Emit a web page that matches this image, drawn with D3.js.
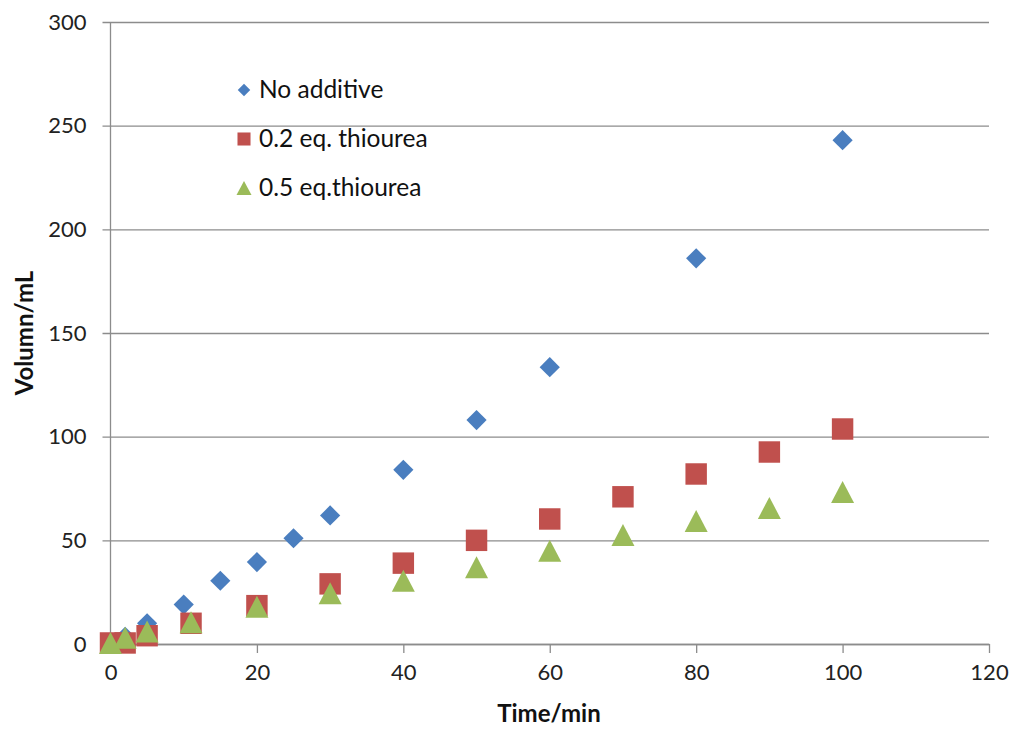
<!DOCTYPE html>
<html>
<head>
<meta charset="utf-8">
<script src="https://cdn.jsdelivr.net/npm/d3@7"></script>
<style>
  body { margin: 0; background: white; }
</style>
</head>
<body>
<div id="container"></div>
<script>
let w = 1016;
let h = 730;

// series data
let seriesNames = ["No additive", "0.2 eq. thiourea", "0.5 eq.thiourea"];
let seriesColors = ["#4a7ebf", "#c0504d", "#9bbb59"];

let noAddTime = [0, 2, 5, 10, 15, 20, 25, 30, 40, 50, 60, 80, 100];
let noAddVol  = [0, 3.5, 10, 19, 30.5, 39.5, 51, 62, 84, 108, 133.5, 186, 243];

let thio02Time = [0, 2, 5, 11, 20, 30, 40, 50, 60, 70, 80, 90, 100];
let thio02Vol  = [0.5, 0.5, 4, 10, 18.5, 29, 39, 50, 60.3, 71, 82, 92.6, 103.7];

let thio05Time = [0, 2, 5, 11, 20, 30, 40, 50, 60, 70, 80, 90, 100];
let thio05Vol  = [0.5, 3, 6, 10.5, 18, 24.5, 30.5, 37, 45, 52.6, 59.3, 65.6, 73.3];

let xTicks = [0, 20, 40, 60, 80, 100, 120];
let yTicks = [0, 50, 100, 150, 200, 250, 300];

let margin = {left: 110.5, right: 27, top: 22, bottom: 86};

let viz = d3.select("#container")
  .append("svg")
    .attr("width", w)
    .attr("height", h)
    .style("background-color", "white")
;

let x = d3.scaleLinear().domain([0, 120]).range([margin.left, w - margin.right]);
let y = d3.scaleLinear().domain([0, 300]).range([h - margin.bottom, margin.top]);

let font = "Lato, 'Open Sans', sans-serif";

// gridlines (also serve as y ticks)
viz.append("g")
    .attr("transform", "translate(" + margin.left + ",0)")
    .call(d3.axisLeft(y).tickValues(yTicks).tickSize(-(w - margin.right - margin.left)).tickSizeOuter(0).tickPadding(10))
    .call(g => g.select(".domain").remove())
    .call(g => g.selectAll(".tick line").attr("stroke", "#8c8c8c").attr("stroke-width", 1.3).attr("x1", -8))
    .call(g => g.selectAll(".tick text")
        .attr("x", -24)
        .attr("fill", "#222")
        .style("font-size", "22px")
        .style("font-family", font))
;

// y axis line
viz.append("line")
    .attr("x1", margin.left)
    .attr("x2", margin.left)
    .attr("y1", y(300))
    .attr("y2", y(0))
    .style("stroke", "#8c8c8c")
    .style("stroke-width", 1.3)
;

// x axis
viz.append("g")
    .attr("transform", "translate(0," + y(0) + ")")
    .call(d3.axisBottom(x).tickValues(xTicks).tickSize(9).tickSizeOuter(0).tickPadding(11))
    .call(g => g.select(".domain").attr("stroke", "#8c8c8c").attr("stroke-width", 1.3))
    .call(g => g.selectAll(".tick line").attr("stroke", "#8c8c8c").attr("stroke-width", 1.3))
    .call(g => g.selectAll(".tick text")
        .attr("fill", "#222")
        .style("font-size", "22px")
        .style("font-family", font))
;

// axis titles
viz.append("text")
    .text("Time/min")
    .attr("x", 549)
    .attr("y", 722)
    .attr("text-anchor", "middle")
    .attr("fill", "#111")
    .style("font-size", "24px")
    .style("font-weight", "bold")
    .style("font-family", font)
;

viz.append("text")
    .text("Volumn/mL")
    .attr("transform", "translate(33," + y(150) + ") rotate(-90)")
    .attr("text-anchor", "middle")
    .attr("fill", "#111")
    .style("font-size", "24px")
    .style("font-weight", "bold")
    .style("font-family", font)
;

function makeSeries(times, vols) {
  return times.map((t, i) => ({t: t, v: vols[i]}));
}

// Excel-style triangle: bounding box centred on the point
function triangleType(wd, ht) {
  return {
    draw(context) {
      context.moveTo(0, -ht / 2);
      context.lineTo(wd / 2, ht / 2);
      context.lineTo(-wd / 2, ht / 2);
      context.closePath();
    }
  };
}

let diamond = d3.symbol().type(d3.symbolDiamond2).size(260);
let square = d3.symbol().type(d3.symbolSquare).size(460);
let triangle = d3.symbol().type(triangleType(23, 22));

function drawSeries(data, shape, color) {
  viz.append("g")
    .selectAll("path")
    .data(data)
    .join("path")
      .attr("d", shape)
      .attr("transform", d => "translate(" + x(d.t) + "," + y(d.v) + ")")
      .attr("fill", color)
  ;
}

drawSeries(makeSeries(noAddTime, noAddVol), diamond, seriesColors[0]);
drawSeries(makeSeries(thio02Time, thio02Vol), square, seriesColors[1]);
drawSeries(makeSeries(thio05Time, thio05Vol), triangle, seriesColors[2]);

// legend
let legendShapes = [
  d3.symbol().type(d3.symbolDiamond2).size(100),
  d3.symbol().type(d3.symbolSquare).size(170),
  d3.symbol().type(triangleType(15, 14))
];

let legend = viz.append("g").attr("transform", "translate(244, 90)");

seriesNames.forEach((name, i) => {
  legend.append("path")
      .attr("d", legendShapes[i])
      .attr("transform", "translate(0," + (i * 49) + ")")
      .attr("fill", seriesColors[i])
  ;
  legend.append("text")
      .text(name)
      .attr("x", 15)
      .attr("y", i * 49 + 8)
      .attr("fill", "#111")
      .style("font-size", "24.5px")
      .style("font-family", font)
  ;
});
</script>
</body>
</html>
